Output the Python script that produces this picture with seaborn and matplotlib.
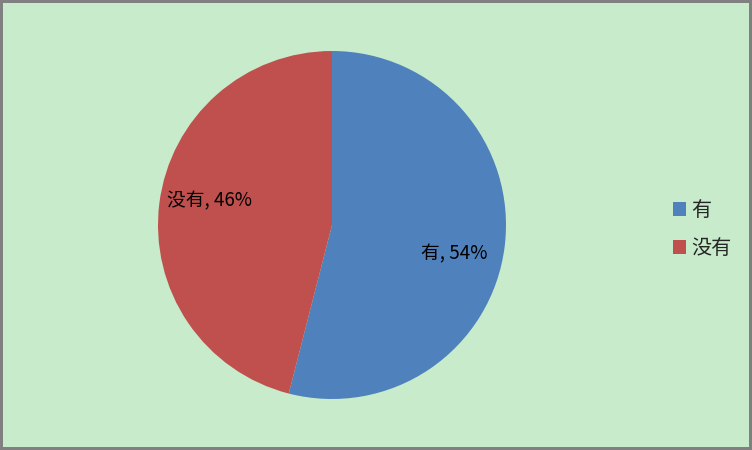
import numpy as np
import matplotlib.pyplot as plt
import seaborn as sns

# 数据
labels = ['有', '没有']
values = [54, 46]
colors = ['#4F81BD', '#C0504D']

sns.set_style('white')
plt.rcParams['font.family'] = ['Noto Sans CJK SC', 'DejaVu Sans']

bg = '#C8ECCB'
fig = plt.figure(figsize=(7.52, 4.5), dpi=100)
fig.patch.set_facecolor(bg)
fig.patch.set_edgecolor('#808080')
fig.patch.set_linewidth(3)

# 饼图区域（正方形）
ax = fig.add_axes([158 / 752, 51 / 450, 348 / 752, 348 / 450])
ax.set_facecolor(bg)

pal = sns.color_palette(colors)
wedges, _ = ax.pie(values, colors=pal, startangle=90, counterclock=False,
                   radius=1, wedgeprops={'linewidth': 0})

# 数据标签：放在扇区中线稍偏顺时针的位置
for w, l, v in zip(wedges, labels, values):
    ang = np.deg2rad((w.theta1 + w.theta2) / 2 - 5)
    ax.text(0.72 * np.cos(ang), 0.72 * np.sin(ang) - 0.015, f'{l}, {v}%',
            ha='center', va='center', fontsize=13.5, color='black')

ax.set_xlim(-1, 1)
ax.set_ylim(-1, 1)
ax.set_aspect('equal')
ax.axis('off')

# 图例
fig.legend(wedges, labels, loc='center left', bbox_to_anchor=(655 / 752, 0.49),
           frameon=False, fontsize=14.5, handlelength=0.65, handleheight=0.65,
           handletextpad=0.25, labelspacing=0.85)

fig.savefig('out.png', dpi=100, facecolor=fig.get_facecolor(),
            edgecolor=fig.get_edgecolor())
